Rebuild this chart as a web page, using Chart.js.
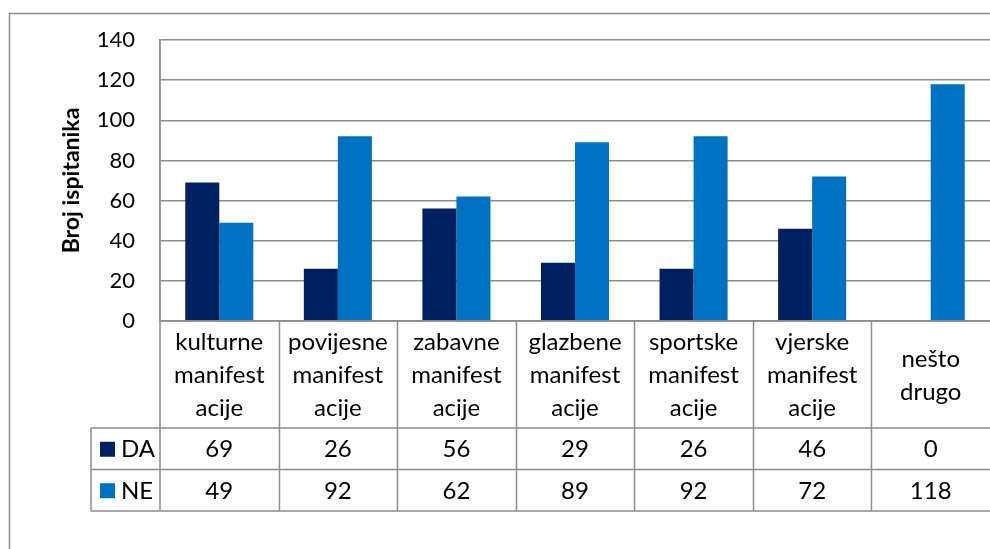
<!DOCTYPE html>
<html lang="hr">
<head>
    <meta charset="UTF-8">
    <title>Broj ispitanika</title>
    <script src="https://cdn.jsdelivr.net/npm/chart.js"></script>
    <style>
        body { margin: 0; background: #fff; }
        #wrap { width: 990px; height: 549px; position: relative; }
    </style>
</head>
<body>
    <div id="wrap"><canvas id="chart" width="990" height="549"></canvas></div>

    <script>
        // Categories (multi-line, as in the data table header)
        var categories = [
            ["kulturne", "manifest", "acije"],
            ["povijesne", "manifest", "acije"],
            ["zabavne", "manifest", "acije"],
            ["glazbene", "manifest", "acije"],
            ["sportske", "manifest", "acije"],
            ["vjerske", "manifest", "acije"],
            ["nešto", "drugo"]
        ];
        var seriesNames = ["DA", "NE"];
        var daValues = [69, 26, 56, 29, 26, 46, 0];
        var neValues = [49, 92, 62, 89, 92, 72, 118];
        var yTicks = [0, 20, 40, 60, 80, 100, 120, 140];

        var colors = ["#002060", "#0070C0"];
        var lineColor = "#8c8c8c";
        var fontFamily = "Lato, 'Open Sans', sans-serif";

        // Draws the Excel-style data table under the plot, plus the outer frame
        var dataTable = {
            id: 'dataTable',
            afterDraw: function(chart) {
                var ctx = chart.ctx;
                var x = chart.scales.x;
                var area = chart.chartArea;
                var n = categories.length;
                var step = (area.right - area.left) / n;
                var headBottom = area.bottom + 107;
                var rowH = 41.5;
                var legLeft = 91;
                var rows = [daValues, neValues];

                ctx.save();
                ctx.strokeStyle = lineColor;
                ctx.lineWidth = 1.5;

                // horizontal lines
                ctx.beginPath();
                ctx.moveTo(area.left, area.bottom);
                ctx.lineTo(area.right, area.bottom);
                for (var r = 0; r <= rows.length; r++) {
                    var yy = headBottom + r * rowH;
                    ctx.moveTo(legLeft, yy);
                    ctx.lineTo(area.right, yy);
                }
                // vertical lines
                ctx.moveTo(legLeft, headBottom);
                ctx.lineTo(legLeft, headBottom + rows.length * rowH);
                ctx.moveTo(area.left, area.top);
                ctx.lineTo(area.left, headBottom + rows.length * rowH);
                for (var i = 1; i < n; i++) {
                    var bx = Math.round(area.left + i * step) + 0.5;
                    ctx.moveTo(bx, area.bottom);
                    ctx.lineTo(bx, headBottom + rows.length * rowH);
                }
                ctx.stroke();

                // header text
                ctx.fillStyle = "#000";
                ctx.font = "24px " + fontFamily;
                ctx.textAlign = "center";
                ctx.textBaseline = "middle";
                var lh = 33;
                categories.forEach(function(lines, i) {
                    var cx = x.getPixelForValue(i);
                    var mid = (area.bottom + headBottom) / 2 + 1;
                    var start = mid - (lines.length - 1) * lh / 2;
                    lines.forEach(function(t, k) {
                        ctx.fillText(t, cx, start + k * lh);
                    });
                });

                // value rows with legend keys
                rows.forEach(function(vals, r) {
                    var cy = headBottom + r * rowH + rowH / 2 + 1;
                    ctx.fillStyle = colors[r];
                    ctx.fillRect(100, cy - 8, 15, 15);
                    ctx.fillStyle = "#000";
                    ctx.textAlign = "left";
                    ctx.fillText(seriesNames[r], 121, cy);
                    ctx.textAlign = "center";
                    vals.forEach(function(v, i) {
                        ctx.fillText(String(v), x.getPixelForValue(i), cy);
                    });
                });

                // outer chart frame
                ctx.strokeStyle = lineColor;
                ctx.lineWidth = 1.5;
                ctx.strokeRect(9.5, 13.5, 1100, 700);
                ctx.restore();
            }
        };

        var ctx = document.getElementById('chart').getContext('2d');
        var chart = new Chart(ctx, {
            type: 'bar',
            data: {
                labels: categories,
                datasets: [
                    { label: seriesNames[0], data: daValues, backgroundColor: colors[0] },
                    { label: seriesNames[1], data: neValues, backgroundColor: colors[1] }
                ]
            },
            options: {
                responsive: false,
                animation: false,
                events: [],
                categoryPercentage: 0.574,
                barPercentage: 1.0,
                layout: { padding: { left: 0, right: 0, top: 40, bottom: 228 } },
                plugins: {
                    legend: { display: false },
                    tooltip: { enabled: false }
                },
                scales: {
                    x: {
                        display: false
                    },
                    y: {
                        min: 0,
                        max: 140,
                        afterBuildTicks: function(s) {
                            s.ticks = yTicks.map(function(v) { return { value: v }; });
                        },
                        afterFit: function(s) { s.width = 160; },
                        ticks: {
                            padding: 25,
                            color: "#000",
                            font: { family: fontFamily, size: 22 }
                        },
                        grid: { color: lineColor, lineWidth: 1.5, drawTicks: false },
                        border: { display: true, color: lineColor, width: 1.5 },
                        title: {
                            display: true,
                            text: "Broj ispitanika",
                            color: "#000",
                            font: { family: fontFamily, size: 23, weight: 'bold' },
                            padding: { top: 58, bottom: 0 }
                        }
                    }
                }
            },
            plugins: [dataTable]
        });
    </script>
</body>
</html>
